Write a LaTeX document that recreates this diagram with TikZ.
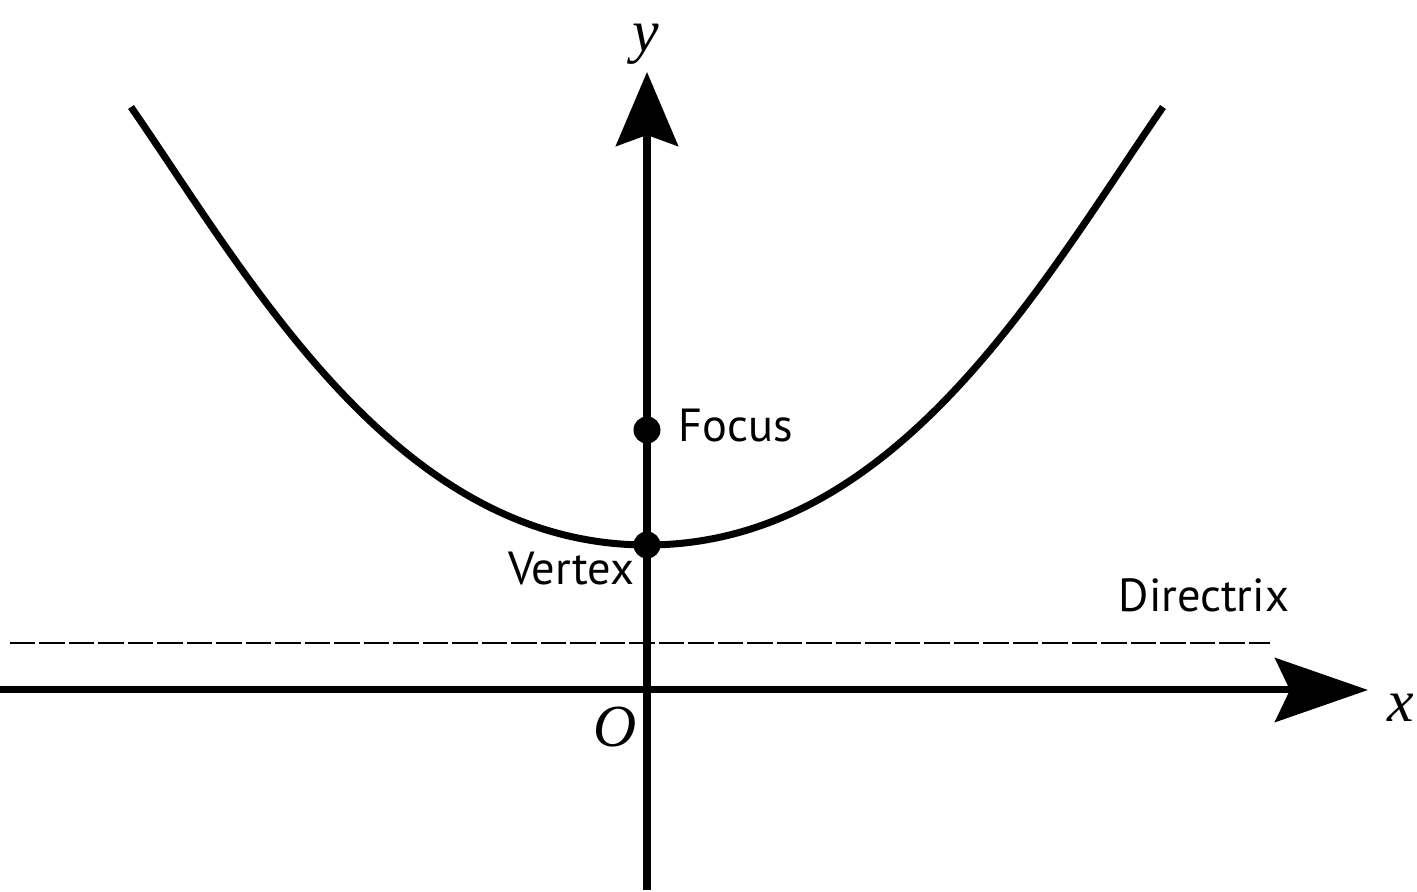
\documentclass[tikz,border=0pt]{standalone}
\usepackage{fontspec}
\setmainfont{Liberation Serif}
\newfontfamily\labelfont{PT Sans}
\usetikzlibrary{arrows.meta}
\tikzset{
  axisline/.style={line width=0.07cm},
  curveline/.style={line width=0.07cm, line cap=butt},
  dotnode/.style={circle, fill=black, inner sep=0pt, minimum size=0.27cm},
  wordlabel/.style={inner sep=0pt, font=\labelfont\fontsize{13.2pt}{15pt}\selectfont},
  mathlabel/.style={inner sep=0pt, font=\fontsize{17pt}{19pt}\selectfont\itshape},
  dirline/.style={line width=0.02cm, dash pattern=on 0.255cm off 0.04cm}
}
\begin{document}
\begin{tikzpicture}
\useasboundingbox (-6.47,-2.02) rectangle (7.70,6.90);
% axis end points
\coordinate (xstart) at (-6.47,0);
\coordinate (xend) at (7.21,0);
\coordinate (ystart) at (0,-2.00);
\coordinate (yend) at (0,6.18);
\coordinate (dstart) at (-6.37,0.47);
\coordinate (dend) at (6.23,0.47);
\coordinate (cleft) at (-5.16,5.83);
\coordinate (cright) at (5.16,5.83);
% directrix
\draw[dirline] (dstart) -- (dend);
% axes
\draw[axisline, -{Stealth[length=0.93cm, width=0.64cm, inset=0.15cm]}] (xstart) -- (xend);
\draw[axisline, -{Stealth[length=0.74cm, width=0.62cm, inset=0.11cm]}] (ystart) -- (yend);
% points
\node[dotnode] (vertex) at (0,1.45) {};
\node[dotnode] (focus) at (0,2.60) {};
% parabola
\draw[curveline] (cleft) .. controls (-3.96,4.09) and (-2.5,1.45) .. (vertex.center)
  .. controls (2.5,1.45) and (3.96,4.09) .. (cright);
% labels
\node[wordlabel, anchor=base west] (focuslbl) at (0.31,2.48) {Focus};
\node[wordlabel, anchor=base east] (vertexlbl) at (-0.12,1.05) {Vertex};
\node[wordlabel, anchor=base west] (dirlbl) at (4.71,0.78) {Directrix};
\node[mathlabel, anchor=base] (ylbl) at (-0.01,6.38) {y};
\node[mathlabel, anchor=base] (xlbl) at (7.54,-0.32) {x};
\node[mathlabel, anchor=base] (olbl) at (-0.32,-0.57) {O};
\end{tikzpicture}
\end{document}
